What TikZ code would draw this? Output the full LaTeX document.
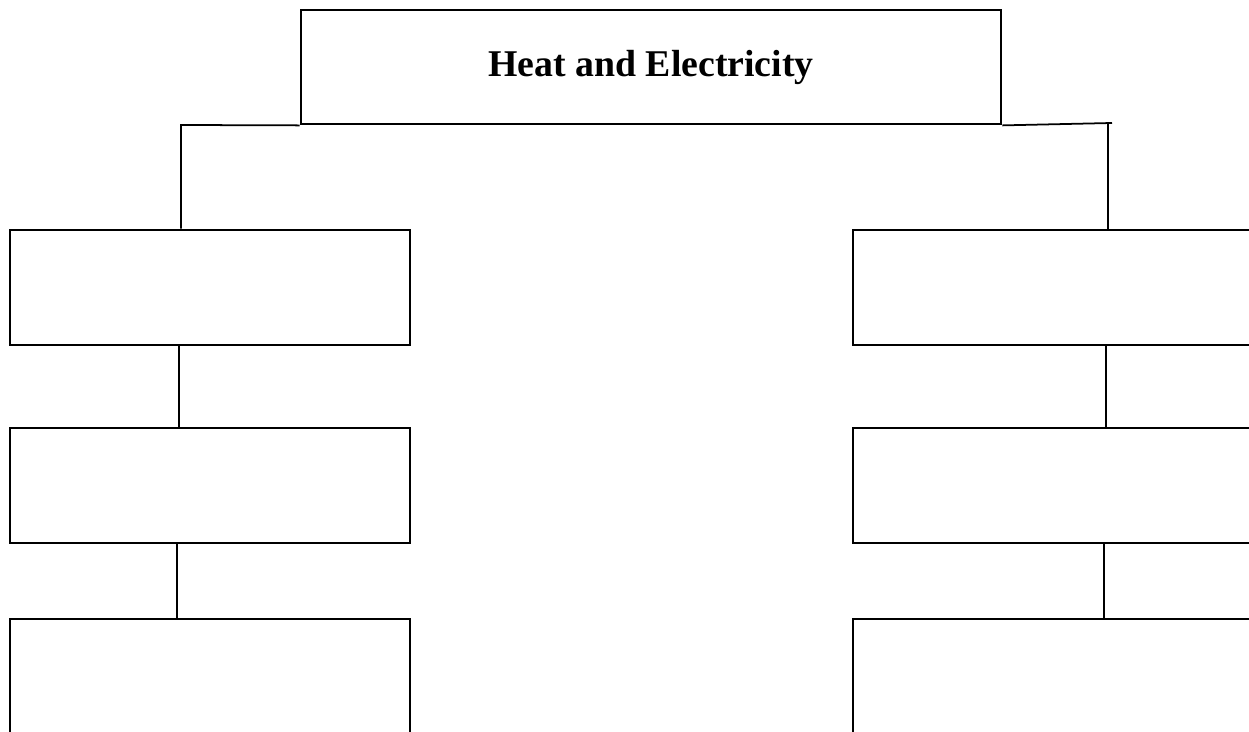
\documentclass[tikz,border=0pt]{standalone}
\usepackage{fontspec}
\setmainfont{Liberation Serif}
\usetikzlibrary{calc}

\begin{document}
\begin{tikzpicture}[x=0.02cm,y=-0.02cm,
  box/.style={draw,line width=1.6pt,minimum width=8cm,minimum height=2.3cm,inner sep=0pt},
  link/.style={line width=1pt}]
\useasboundingbox (0,0) rectangle (1249,732);
\clip (0,0) rectangle (1249,732);
\node[draw,line width=1.6pt,minimum width=14cm,minimum height=2.28cm,
  font=\fontsize{21.5}{26}\selectfont\bfseries] (top) at (651,67) {Heat and Electricity};
% left column
\node[box] (L1) at (210,287.5) {};
\node[box] (L2) at (210,485.5) {};
\node[box] (L3) at (210,676.5) {};
% right column
\node[box] (R1) at (1053,287.5) {};
\node[box] (R2) at (1053,485.5) {};
\node[box] (R3) at (1053,676.5) {};
\coordinate (lk) at (181,125);
\coordinate (rk) at (1108,123);
\coordinate (rend) at (1112,123);
\draw[link] (top.south west) -- (lk) -- (lk |- L1.north);
\draw[link] (top.south east) -- (rend);
\draw[link] (rk) -- (rk |- R1.north);
\draw[link] ($(L1.south)+(-31,0)$) -- ($(L2.north)+(-31,0)$);
\draw[link] ($(L2.south)+(-33,0)$) -- ($(L3.north)+(-33,0)$);
\draw[link] ($(R1.south)+(53,0)$) -- ($(R2.north)+(53,0)$);
\draw[link] ($(R2.south)+(51,0)$) -- ($(R3.north)+(51,0)$);
\end{tikzpicture}
\end{document}
